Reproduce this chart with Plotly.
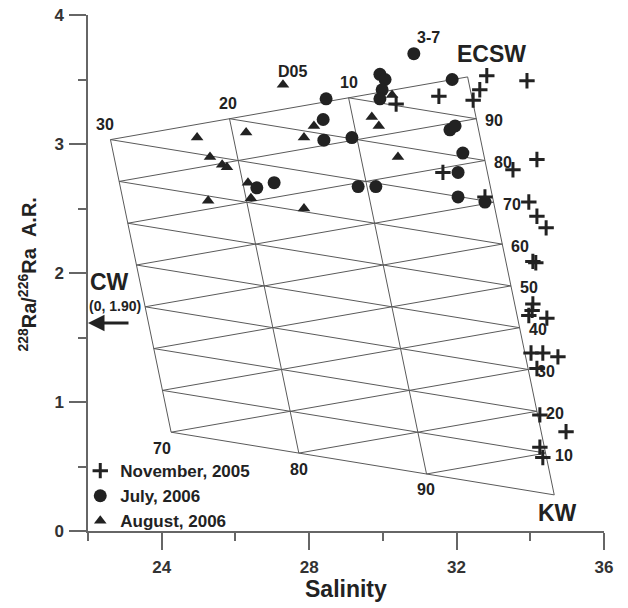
import plotly.graph_objects as go

# ---------------- data ----------------
# November, 2005 (crosses)
nov_sal = [30.36, 31.52, 31.63, 32.82, 33.91, 32.63, 32.45, 34.18, 33.53, 32.77,
           33.96, 34.18, 34.43, 34.07, 34.15, 34.07, 34.05, 33.96, 34.45, 34.02,
           34.34, 34.75, 34.18, 34.26, 34.97, 34.26, 34.34]
nov_ra = [3.31, 3.37, 2.78, 3.53, 3.49, 3.42, 3.34, 2.88, 2.80, 2.59,
          2.55, 2.44, 2.35, 2.09, 2.08, 1.76, 1.71, 1.67, 1.65, 1.38,
          1.38, 1.35, 1.26, 0.90, 0.77, 0.65, 0.57]

# July, 2006 (circles)
jul_sal = [26.58, 27.05, 28.46, 28.38, 28.40, 29.16, 29.92, 30.06, 29.98, 29.92,
           30.84, 31.88, 31.82, 31.96, 32.17, 32.04, 29.33, 29.81, 32.04, 32.77]
jul_ra = [2.66, 2.70, 3.35, 3.19, 3.03, 3.05, 3.54, 3.50, 3.42, 3.35,
          3.70, 3.50, 3.11, 3.14, 2.93, 2.78, 2.67, 2.67, 2.59, 2.55]

# August, 2006 (triangles)
aug_sal = [24.96, 25.31, 25.64, 25.77, 25.26, 26.29, 26.34, 26.42, 27.86, 27.86,
           27.29, 28.13, 30.25, 29.70, 29.89, 30.41]
aug_ra = [3.05, 2.90, 2.84, 2.82, 2.56, 3.09, 2.70, 2.58, 3.05, 2.50,
          3.46, 3.14, 3.38, 3.21, 3.14, 2.90]

# labelled stations
station_names = ["D05", "3-7"]
station_sal = [27.29, 30.84]
station_ra = [3.46, 3.70]

# end-members of the three-component mixing model (salinity, 228Ra/226Ra)
cw_end = (0.0, 1.90)
ecsw_end = (32.3, 3.52)
kw_end = (34.65, 0.28)

cw_levels = [0.0, 0.1, 0.2, 0.3]            # CW fraction lines
frac_levels = [0.1, 0.2, 0.3, 0.4, 0.5, 0.6, 0.7, 0.8, 0.9]
cw_max = 0.3

x_ticks = [24, 28, 32, 36]
y_ticks = [0, 1, 2, 3, 4]

# ---------------- helpers ----------------
def mix(c, e, k):
    s = c * cw_end[0] + e * ecsw_end[0] + k * kw_end[0]
    r = c * cw_end[1] + e * ecsw_end[1] + k * kw_end[1]
    return s, r

gx, gy = [], []
def seg(p, q):
    a = mix(*p)
    b = mix(*q)
    gx.extend([a[0], b[0], None])
    gy.extend([a[1], b[1], None])

for c in cw_levels:
    seg((c, 1 - c, 0), (c, 0, 1 - c))
seg((cw_max, 1 - cw_max, 0), (0, 1, 0))
seg((cw_max, 0, 1 - cw_max), (0, 0, 1))
for f in frac_levels:
    cm = min(cw_max, 1 - f)
    seg((0, f, 1 - f), (cm, f, 1 - f - cm))      # constant ECSW
    seg((0, 1 - f, f), (cm, 1 - f - cm, f))      # constant KW

INK = "#222222"
FONT = "Liberation Sans, Arial, sans-serif"

fig = go.Figure()
fig.add_trace(go.Scatter(x=gx, y=gy, mode="lines",
                         line=dict(color="#5a5a5a", width=1),
                         hoverinfo="skip", showlegend=False))

fig.add_trace(go.Scatter(x=nov_sal, y=nov_ra, mode="markers", name="November, 2005",
                         marker=dict(symbol="cross-thin", size=11, color=INK,
                                     line=dict(color=INK, width=3))))
fig.add_trace(go.Scatter(x=jul_sal, y=jul_ra, mode="markers", name="July, 2006",
                         marker=dict(symbol="circle", size=13, color=INK, line=dict(width=0))))
fig.add_trace(go.Scatter(x=aug_sal, y=aug_ra, mode="markers", name="August, 2006",
                         marker=dict(symbol="triangle-up", size=11, color=INK, line=dict(width=0))))

ann = []
def label(x, y, text, size=16, xshift=0, yshift=0, xanchor="center", yanchor="middle"):
    ann.append(dict(x=x, y=y, xref="x", yref="y", text=text, showarrow=False,
                    xshift=xshift, yshift=yshift, xanchor=xanchor, yanchor=yanchor,
                    font=dict(family=FONT, size=size, color=INK, weight="bold")))

# right-edge labels (ECSW fraction)
for f in frac_levels:
    s, r = mix(0, f, 1 - f)
    label(s, r, str(int(round(f * 100))), size=16, xshift=7, yshift=-2, xanchor="left")
# top-edge labels (CW fraction)
for c, dx in zip([0.3, 0.2, 0.1], [-5, -2, 0]):
    s, r = mix(c, 1 - c, 0)
    label(s, r, str(int(round(c * 100))), size=16, xshift=dx, yshift=15)
# bottom-edge labels (KW fraction)
for c, dx in zip([0.3, 0.2, 0.1], [-9, 0, -1]):
    s, r = mix(c, 0, 1 - c)
    label(s, r, str(int(round((1 - c) * 100))), size=16, xshift=dx, yshift=-16)

label(ecsw_end[0], ecsw_end[1], "ECSW", size=23, xshift=24, yshift=23)
label(kw_end[0], kw_end[1], "KW", size=23, xshift=3, yshift=-18)
for nm, s, r, dx, dy in zip(station_names, station_sal, station_ra, [10, 15], [13, 16]):
    label(s, r, nm, size=16, xshift=dx, yshift=dy)

# CW annotation with arrow
ann.append(dict(x=0.0415, y=0.482, xref="paper", yref="paper", text="CW", showarrow=False,
                xanchor="center", yanchor="middle",
                font=dict(family=FONT, size=23, color=INK, weight="bold")))
ann.append(dict(x=0.052, y=0.436, xref="paper", yref="paper", text="(0, 1.90)", showarrow=False,
                xanchor="center", yanchor="middle",
                font=dict(family=FONT, size=14, color=INK, weight="bold")))
ann.append(dict(x=0.0, y=0.403, xref="paper", yref="paper", ax=42, ay=0,
                axref="pixel", ayref="pixel", text="", showarrow=True,
                arrowhead=2, arrowsize=1.1, arrowwidth=3, arrowcolor=INK))

# axis titles
ann.append(dict(x=-0.118, y=0.343, xref="paper", yref="paper",
                text="<sup>228</sup>Ra/<sup>226</sup>Ra\u00a0\u00a0A.R.", textangle=-90,
                showarrow=False, xanchor="center", yanchor="bottom",
                font=dict(family=FONT, size=20, color=INK, weight="bold")))
ann.append(dict(x=0.5, y=-0.112, xref="paper", yref="paper", text="Salinity",
                showarrow=False, xanchor="center", yanchor="middle",
                font=dict(family=FONT, size=23, color=INK, weight="bold")))

axis_common = dict(showline=True, linecolor="#666666", linewidth=1.5,
                   ticks="outside", ticklen=17, tickwidth=1.5, tickcolor="#666666",
                   showgrid=False, zeroline=False, automargin=False,
                   ticklabeloverflow="allow",
                   tickfont=dict(family=FONT, size=17, color="#333333", weight="bold"))

# page body adds an 8px offset; margins compensate so the plot area
# lands at x 88-604, y 15-531 in the 628x608 window
fig.update_layout(
    width=628, height=608,
    margin=dict(l=80, r=32, t=7, b=85, autoexpand=False),
    plot_bgcolor="white", paper_bgcolor="white",
    font=dict(family=FONT, color=INK),
    xaxis=dict(range=[22, 36], tickvals=x_ticks, ticklabelstandoff=3,
               minor=dict(tickvals=[22, 26, 30, 34], ticks="outside", ticklen=8,
                          tickwidth=1.5, tickcolor="#666666"),
               **axis_common),
    yaxis=dict(range=[0, 4], tickvals=y_ticks, ticklabelstandoff=2,
               minor=dict(tickvals=[0.5, 1.5, 2.5, 3.5], ticks="outside", ticklen=8,
                          tickwidth=1.5, tickcolor="#666666"),
               **axis_common),
    legend=dict(x=-0.015, y=0.151, xanchor="left", yanchor="top",
                bgcolor="rgba(0,0,0,0)", tracegroupgap=0, itemwidth=30,
                font=dict(family=FONT, size=17, color=INK, weight="bold")),
    annotations=ann,
    showlegend=True,
)

fig.write_html("out.html")
